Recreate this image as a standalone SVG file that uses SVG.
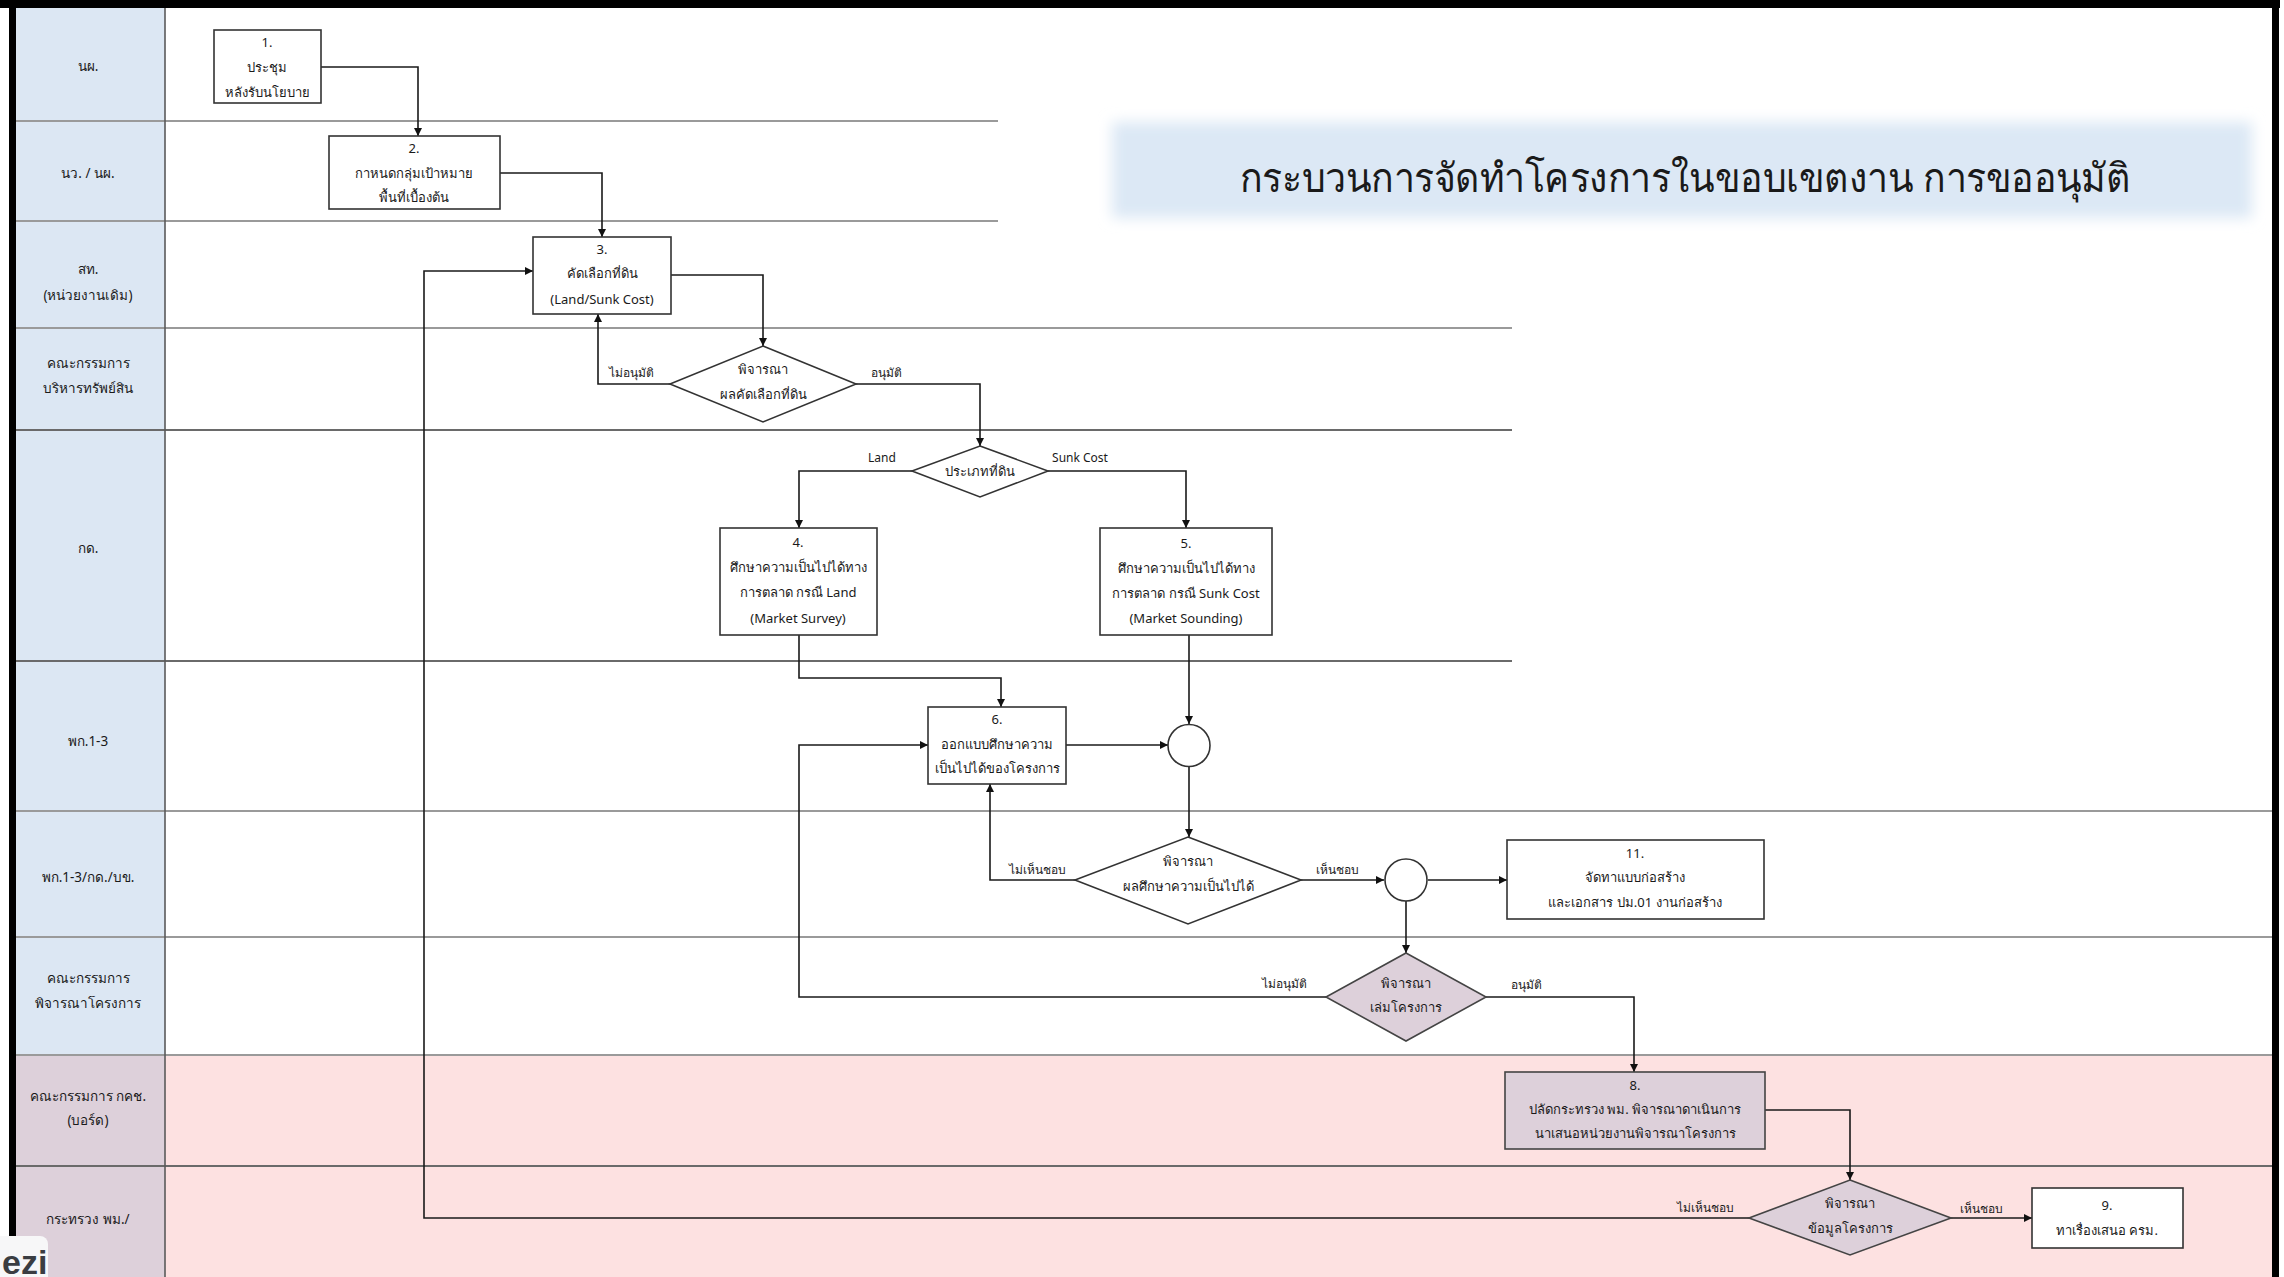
<svg xmlns="http://www.w3.org/2000/svg" width="2284" height="1277" viewBox="0 0 2284 1277">
<style>
text{font-family:"Noto Sans","DejaVu Sans","Liberation Sans",sans-serif;fill:#1a1a1a;text-anchor:middle;dominant-baseline:central}
.t{font-size:13px}
.lb{font-size:13.5px}
.sm{font-size:12px}
.box{fill:#fff;stroke:#333;stroke-width:1.6}
.pbox{fill:#ddd0da;stroke:#444;stroke-width:1.6}
.lane{stroke:#9a9a9a;stroke-width:2}
.laned{stroke:#6a6a6a;stroke-width:2}
.con{fill:none;stroke:#1a1a1a;stroke-width:1.6}
</style>
<defs>
<marker id="arr" viewBox="0 0 10 10" refX="10" refY="5" markerWidth="9" markerHeight="8" markerUnits="userSpaceOnUse" orient="auto"><path d="M0,0 L10,5 L0,10 z" fill="#111"/></marker>
<filter id="soft" x="-5%" y="-20%" width="110%" height="140%"><feGaussianBlur stdDeviation="7"/></filter>
</defs>
<rect width="2284" height="1277" fill="#fff"/>
<g id="background">
<rect x="165" y="1055" width="2108" height="222" fill="#fde1e1"/>
<rect x="15" y="8" width="150" height="1047" fill="#dce7f3"/>
<rect x="15" y="1055" width="150" height="222" fill="#ddd0da"/>
<line class="lane" x1="15" y1="121" x2="998" y2="121"/>
<line class="lane" x1="15" y1="221" x2="998" y2="221"/>
<line class="lane" x1="15" y1="328" x2="1512" y2="328"/>
<line class="laned" x1="15" y1="430" x2="1512" y2="430"/>
<line class="laned" x1="15" y1="661" x2="1512" y2="661"/>
<line class="lane" x1="15" y1="811" x2="2272" y2="811"/>
<line class="lane" x1="15" y1="937" x2="2272" y2="937"/>
<line class="lane" x1="15" y1="1055" x2="2272" y2="1055"/>
<line class="laned" x1="15" y1="1166" x2="2272" y2="1166"/>
<line x1="165" y1="8" x2="165" y2="1277" stroke="#5a5a5a" stroke-width="1.6"/>
<rect x="0" y="0" width="2280" height="8" fill="#000"/>
<rect x="9" y="0" width="7" height="1277" fill="#000"/>
<rect x="2272" y="0" width="7" height="1277" fill="#000"/>
</g>
<g id="title">
<rect x="1112" y="122" width="1140" height="96" fill="#dce8f5" filter="url(#soft)"/>
<text x="1685" y="176" font-size="40" textLength="890" lengthAdjust="spacingAndGlyphs">กระบวนการจัดทำโครงการในขอบเขตงาน การขออนุมัติ</text>
</g>
<g id="lane-labels">
<text class="lb" x="88" y="66">นผ.</text>
<text class="lb" x="88" y="173">นว. / นผ.</text>
<text class="lb" x="88" y="269">สท.</text>
<text class="lb" x="88" y="295">(หน่วยงานเดิม)</text>
<text class="lb" x="88" y="363">คณะกรรมการ</text>
<text class="lb" x="88" y="388">บริหารทรัพย์สิน</text>
<text class="lb" x="88" y="548">กด.</text>
<text class="lb" x="88" y="741">พก.1-3</text>
<text class="lb" x="88" y="877">พก.1-3/กด./บข.</text>
<text class="lb" x="88" y="978">คณะกรรมการ</text>
<text class="lb" x="88" y="1003">พิจารณาโครงการ</text>
<text class="lb" x="88" y="1096">คณะกรรมการ กคช.</text>
<text class="lb" x="88" y="1120">(บอร์ด)</text>
<text class="lb" x="88" y="1219">กระทรวง พม./</text>
</g>
<g id="connectors">
<path class="con" d="M321,67 H418 V136" marker-end="url(#arr)"/>
<path class="con" d="M500,173 H602 V237" marker-end="url(#arr)"/>
<path class="con" d="M671,275 H763 V346" marker-end="url(#arr)"/>
<path class="con" d="M670,384 H598 V314" marker-end="url(#arr)"/>
<path class="con" d="M856,384 H980 V446" marker-end="url(#arr)"/>
<path class="con" d="M912,471 H799 V528" marker-end="url(#arr)"/>
<path class="con" d="M1048,471 H1186 V528" marker-end="url(#arr)"/>
<path class="con" d="M799,635 V678 H1001 V707" marker-end="url(#arr)"/>
<path class="con" d="M1189,635 V724" marker-end="url(#arr)"/>
<path class="con" d="M1066,745 H1168" marker-end="url(#arr)"/>
<path class="con" d="M1189,767 V837" marker-end="url(#arr)"/>
<path class="con" d="M1075,880 H990 V784" marker-end="url(#arr)"/>
<path class="con" d="M1301,880 H1384" marker-end="url(#arr)"/>
<path class="con" d="M1428,880 H1507" marker-end="url(#arr)"/>
<path class="con" d="M1406,901 V953" marker-end="url(#arr)"/>
<path class="con" d="M1326,997 H799 V745 H928" marker-end="url(#arr)"/>
<path class="con" d="M1486,997 H1634 V1072" marker-end="url(#arr)"/>
<path class="con" d="M1765,1110 H1850 V1180" marker-end="url(#arr)"/>
<path class="con" d="M1951,1218 H2032" marker-end="url(#arr)"/>
<path class="con" d="M1749,1218 H424 V271 H533" marker-end="url(#arr)"/>
<text class="sm" x="631" y="372">ไม่อนุมัติ</text>
<text class="sm" x="886" y="372">อนุมัติ</text>
<text class="sm" x="882" y="457">Land</text>
<text class="sm" x="1080" y="457">Sunk Cost</text>
<text class="sm" x="1037" y="869">ไม่เห็นชอบ</text>
<text class="sm" x="1337" y="869">เห็นชอบ</text>
<text class="sm" x="1284" y="983">ไม่อนุมัติ</text>
<text class="sm" x="1526" y="984">อนุมัติ</text>
<text class="sm" x="1705" y="1207">ไม่เห็นชอบ</text>
<text class="sm" x="1981" y="1208">เห็นชอบ</text>
</g>
<g id="n1">
<rect class="box" x="214" y="30" width="107" height="73"/>
<text class="t" x="267" y="42">1.</text>
<text class="t" x="267" y="67">ประชุม</text>
<text class="t" x="267" y="92">หลังรับนโยบาย</text>
</g>
<g id="n2">
<rect class="box" x="329" y="136" width="171" height="73"/>
<text class="t" x="414" y="148">2.</text>
<text class="t" x="414" y="173">กาหนดกลุ่มเป้าหมาย</text>
<text class="t" x="414" y="197">พื้นที่เบื้องต้น</text>
</g>
<g id="n3">
<rect class="box" x="533" y="237" width="138" height="77"/>
<text class="t" x="602" y="249">3.</text>
<text class="t" x="602" y="273">คัดเลือกที่ดิน</text>
<text class="t" x="602" y="299">(Land/Sunk Cost)</text>
</g>
<g id="d1">
<polygon class="box" points="763,346 856,384 763,422 670,384"/>
<text class="t" x="763" y="369">พิจารณา</text>
<text class="t" x="763" y="394">ผลคัดเลือกที่ดิน</text>
</g>
<g id="d2">
<polygon class="box" points="980,446 1048,471 980,497 912,471"/>
<text class="t" x="980" y="471">ประเภทที่ดิน</text>
</g>
<g id="n4">
<rect class="box" x="720" y="528" width="157" height="107"/>
<text class="t" x="798" y="542">4.</text>
<text class="t" x="798" y="567">ศึกษาความเป็นไปได้ทาง</text>
<text class="t" x="798" y="592">การตลาด กรณี Land</text>
<text class="t" x="798" y="618">(Market  Survey)</text>
</g>
<g id="n5">
<rect class="box" x="1100" y="528" width="172" height="107"/>
<text class="t" x="1186" y="543">5.</text>
<text class="t" x="1186" y="568">ศึกษาความเป็นไปได้ทาง</text>
<text class="t" x="1186" y="593">การตลาด กรณี Sunk Cost</text>
<text class="t" x="1186" y="618">(Market  Sounding)</text>
</g>
<g id="n6">
<rect class="box" x="928" y="707" width="138" height="77"/>
<text class="t" x="997" y="719">6.</text>
<text class="t" x="997" y="744">ออกแบบศึกษาความ</text>
<text class="t" x="997" y="768">เป็นไปได้ของโครงการ</text>
</g>
<g id="j1">
<circle class="box" cx="1189" cy="745.5" r="21"/>
</g>
<g id="d3">
<polygon class="box" points="1188,837 1301,880 1188,924 1075,880"/>
<text class="t" x="1188" y="861">พิจารณา</text>
<text class="t" x="1188" y="886">ผลศึกษาความเป็นไปได้</text>
</g>
<g id="j2">
<circle class="box" cx="1406" cy="880" r="21"/>
</g>
<g id="n11">
<rect class="box" x="1507" y="840" width="257" height="79"/>
<text class="t" x="1635" y="853">11.</text>
<text class="t" x="1635" y="877">จัดทาแบบก่อสร้าง</text>
<text class="t" x="1635" y="902">และเอกสาร ปม.01 งานก่อสร้าง</text>
</g>
<g id="d4">
<polygon class="pbox" points="1406,953 1486,997 1406,1041 1326,997"/>
<text class="t" x="1406" y="983">พิจารณา</text>
<text class="t" x="1406" y="1007">เล่มโครงการ</text>
</g>
<g id="n8">
<rect class="pbox" x="1505" y="1072" width="260" height="77"/>
<text class="t" x="1635" y="1085">8.</text>
<text class="t" x="1635" y="1109">ปลัดกระทรวง พม. พิจารณาดาเนินการ</text>
<text class="t" x="1635" y="1133">นาเสนอหน่วยงานพิจารณาโครงการ</text>
</g>
<g id="d5">
<polygon class="pbox" points="1850,1180 1951,1218 1850,1255 1749,1218"/>
<text class="t" x="1850" y="1203">พิจารณา</text>
<text class="t" x="1850" y="1228">ข้อมูลโครงการ</text>
</g>
<g id="n9">
<rect class="box" x="2032" y="1188" width="151" height="60"/>
<text class="t" x="2107" y="1205">9.</text>
<text class="t" x="2107" y="1230">ทาเรื่องเสนอ ครม.</text>
</g>
<g id="watermark">
<rect x="-10" y="1236" width="58" height="60" rx="8" fill="#f7f7f8"/>
<text x="2" y="1262" font-size="34" font-weight="bold" style="fill:#3a3d42;font-family:'Liberation Sans',sans-serif;text-anchor:start">ezi</text>
</g>
</svg>
